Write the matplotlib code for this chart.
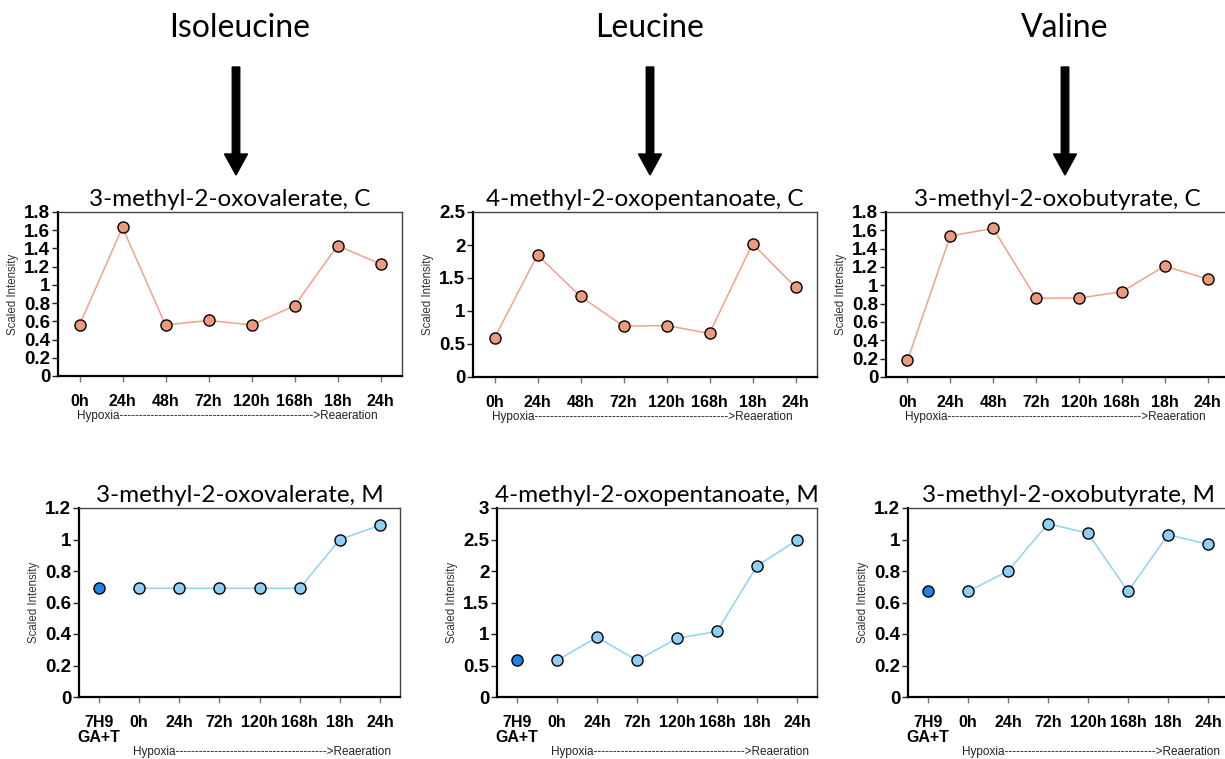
"""
BCAA keto-acid intermediates: C (culture) vs M (medium) time-course, 3x2 panel figure
"""
import numpy as np
import matplotlib
matplotlib.use('Agg')
import matplotlib.pyplot as plt
from matplotlib.patches import FancyArrow

W, H = 1225, 759
HEAD_FONT = ['Lato', 'DejaVu Sans']
TICK_FONT = ['Liberation Sans', 'DejaVu Sans']

# ===== data =====
amino_acids = ['Isoleucine', 'Leucine', 'Valine']
keto_acids = ['3-methyl-2-oxovalerate', '4-methyl-2-oxopentanoate', '3-methyl-2-oxobutyrate']

c_labels = ['0h', '24h', '48h', '72h', '120h', '168h', '18h', '24h']
m_labels = ['7H9\nGA+T', '0h', '24h', '72h', '120h', '168h', '18h', '24h']

# C (cells)
c_ile = [0.56, 1.63, 0.56, 0.61, 0.56, 0.77, 1.43, 1.23]
c_leu = [0.59, 1.85, 1.22, 0.77, 0.78, 0.66, 2.02, 1.36]
c_val = [0.18, 1.54, 1.62, 0.86, 0.86, 0.93, 1.21, 1.07]

# M (medium): 7H9 reference + time course
m_ref = [0.69, 0.58, 0.67]
m_ile = [0.69, 0.69, 0.69, 0.69, 0.69, 1.00, 1.09]
m_leu = [0.58, 0.95, 0.58, 0.93, 1.04, 2.08, 2.49]
m_val = [0.67, 0.80, 1.10, 1.04, 0.67, 1.03, 0.97]

c_series = [c_ile, c_leu, c_val]
m_series = [m_ile, m_leu, m_val]
c_ymax = [1.8, 2.5, 1.8]
c_ystep = [0.2, 0.5, 0.2]
m_ymax = [1.2, 3.0, 1.2]
m_ystep = [0.2, 0.5, 0.2]

# ===== layout (pixels, top-left origin) =====
top_boxes = [(58, 212, 344, 164), (473, 212, 344, 165), (886, 212, 343, 165)]
bot_boxes = [(79, 508, 321, 189), (497, 508, 320, 189), (908, 508, 320, 189)]
head_x = [240, 650, 1065]
arrow_x = [236, 650, 1065]

C_FILL, C_LINE = '#EC9A7E', '#F2A288'
M_FILL, M_LINE, M_REF = '#8ECFF6', '#93D0F7', '#1F82E6'


def px_axes(fig, box):
    l, t, w, h = box
    return fig.add_axes([l / W, 1 - (t + h) / H, w / W, h / H])


def fmt(v):
    s = f'{v:.1f}'
    return s[:-2] if s.endswith('.0') else s


def style_axes(ax, ymax, ystep, labels):
    ax.set_xlim(-0.5, 7.5)
    ax.set_ylim(0, ymax)
    yt = np.arange(0, ymax + 1e-9, ystep)
    ax.set_yticks(yt)
    ax.set_yticklabels([fmt(v) for v in yt], fontfamily=TICK_FONT,
                       fontweight='bold', fontsize=13.5)
    ax.set_xticks(range(len(labels)))
    ax.set_xticklabels(labels, fontfamily=TICK_FONT, fontweight='bold',
                       fontsize=11.5, linespacing=1.0)
    ax.tick_params(axis='y', length=4, width=1, pad=1.5, color='#222')
    ax.tick_params(axis='x', length=4, width=1, pad=9, color='#777')
    for s in ['left', 'bottom']:
        ax.spines[s].set_linewidth(1.6)
        ax.spines[s].set_color('black')
    for s in ['top', 'right']:
        ax.spines[s].set_linewidth(1.0)
        ax.spines[s].set_color('#444')
    ax.set_ylabel('Scaled Intensity', fontfamily=TICK_FONT, fontsize=8.3,
                  color='#333', labelpad=4)


def hypoxia_note(ax, x0, y, n_dash):
    ax.annotate('Hypoxia' + '-' * n_dash + '>Reaeration', xy=(x0, y),
                xycoords=('data', 'axes fraction'), ha='left', va='center',
                fontfamily=TICK_FONT, fontsize=8.5, color='#222',
                annotation_clip=False)


fig = plt.figure(figsize=(W / 100, H / 100), dpi=100)

# headers + arrows on an overlay in pixel coordinates
ov = fig.add_axes([0, 0, 1, 1])
ov.set_xlim(0, W)
ov.set_ylim(H, 0)
ov.axis('off')
for name, x in zip(amino_acids, head_x):
    ov.text(x, 28, name, ha='center', va='center', fontsize=23,
            fontfamily=HEAD_FONT)
for x in arrow_x:
    ov.add_patch(FancyArrow(x, 67, 0, 108, width=7.5, head_width=23,
                            head_length=21, length_includes_head=True,
                            color='black'))

xc = np.arange(len(c_labels))
for i in range(3):
    ax = px_axes(fig, top_boxes[i])
    ax.plot(xc, c_series[i], '-', color=C_LINE, lw=1.1, zorder=2)
    ax.plot(xc, c_series[i], 'o', ms=8, mfc=C_FILL, mec='black', mew=1,
            zorder=3, clip_on=False)
    style_axes(ax, c_ymax[i], c_ystep[i], c_labels)
    ax.set_title(f'{keto_acids[i]}, C', fontfamily=HEAD_FONT, fontsize=17.5, pad=4)
    hypoxia_note(ax, -0.05, -0.245, 50)

for i in range(3):
    ax = px_axes(fig, bot_boxes[i])
    xm = np.arange(1, len(m_labels))
    ax.plot(xm, m_series[i], '-', color=M_LINE, lw=1.1, zorder=2)
    ax.plot(xm, m_series[i], 'o', ms=8, mfc=M_FILL, mec='black', mew=1,
            zorder=3, clip_on=False)
    ax.plot([0], [m_ref[i]], 'o', ms=8, mfc=M_REF, mec='black', mew=1, zorder=3)
    style_axes(ax, m_ymax[i], m_ystep[i], m_labels)
    ax.set_title(f'{keto_acids[i]}, M', fontfamily=HEAD_FONT, fontsize=17.5, pad=4)
    hypoxia_note(ax, 0.85, -0.29, 39)

fig.savefig('out.png', dpi=100)
